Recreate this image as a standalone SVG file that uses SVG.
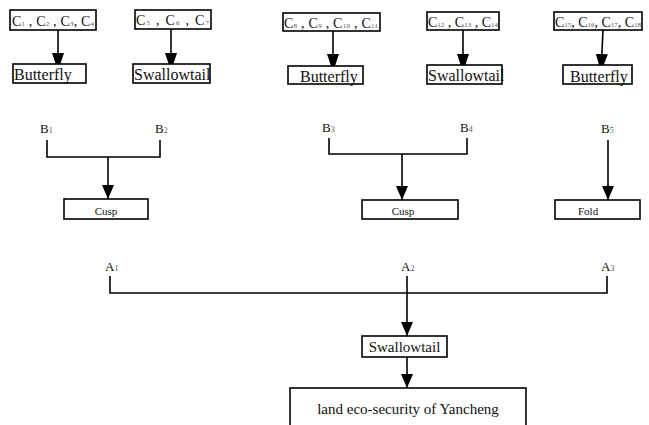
<svg xmlns="http://www.w3.org/2000/svg" width="649" height="425" viewBox="0 0 649 425" font-family="'Liberation Serif', 'Times New Roman', Times, serif">
<style>
  .box { fill: #fff; stroke: #000; stroke-width: 1.6; }
  .ln { fill: none; stroke: #000; stroke-width: 1.6; }
  text { font-family: 'Liberation Serif', 'Times New Roman', Times, serif; fill: #111; }
  .s { font-size: 7px; fill: #555; }
  .c { font-size: 14px; }
  .n { font-size: 16px; }
  .sm { font-size: 11px; }
  .lab { font-size: 13px; }
  .lab .s { font-size: 8px; }
</style>
<defs>
  <marker id="ah" viewBox="0 -6 18 12" refX="18" refY="0" markerWidth="18" markerHeight="12" markerUnits="userSpaceOnUse" orient="auto">
    <path d="M0,-6 L18,0 L0,6 z" fill="#000"/>
  </marker>
  <marker id="ahs" viewBox="0 -6 14 12" refX="14" refY="0" markerWidth="14" markerHeight="12" markerUnits="userSpaceOnUse" orient="auto">
    <path d="M0,-6 L14,0 L0,6 z" fill="#000"/>
  </marker>
</defs>

<g id="connectors">
  <line class="ln" x1="58" y1="30" x2="58" y2="71" marker-end="url(#ah)"/>
  <line class="ln" x1="171" y1="29" x2="171" y2="71" marker-end="url(#ah)"/>
  <line class="ln" x1="333" y1="31" x2="333" y2="72" marker-end="url(#ah)"/>
  <line class="ln" x1="463" y1="30" x2="463" y2="72" marker-end="url(#ah)"/>
  <line class="ln" x1="603" y1="30" x2="601" y2="72" marker-end="url(#ah)"/>

  <path class="ln" d="M47,140 V157 H160 V140"/>
  <line class="ln" x1="108" y1="157" x2="108" y2="199" marker-end="url(#ahs)"/>
  <path class="ln" d="M329,138 V154 H467 V138"/>
  <line class="ln" x1="402" y1="154" x2="402" y2="200" marker-end="url(#ahs)"/>
  <line class="ln" x1="608" y1="140" x2="608" y2="200" marker-end="url(#ahs)"/>

  <path class="ln" d="M110,276 V293 H607 V276"/>
  <line class="ln" x1="407" y1="276" x2="407" y2="336" marker-end="url(#ahs)"/>
  <line class="ln" x1="407" y1="357" x2="407" y2="388" marker-end="url(#ahs)"/>
</g>

<g id="c1-4">
  <rect class="box" x="10" y="10" width="86" height="20"/>
  <text class="c" x="12" y="25.5" textLength="82" lengthAdjust="spacing">C<tspan class="s">1</tspan> , C<tspan class="s">2</tspan> , C<tspan class="s">3</tspan>, C<tspan class="s">4</tspan></text>
</g>
<g id="c5-7">
  <rect class="box" x="135" y="10" width="76" height="19"/>
  <text class="c" x="136" y="25" textLength="73" lengthAdjust="spacing">C<tspan class="s">5</tspan> , C<tspan class="s">6</tspan> , C<tspan class="s">7</tspan></text>
</g>
<g id="c8-11">
  <rect class="box" x="283" y="13" width="97" height="18"/>
  <text class="c" x="284" y="27.5" textLength="94" lengthAdjust="spacing">C<tspan class="s">8</tspan> , C<tspan class="s">9</tspan> , C<tspan class="s">10</tspan> , C<tspan class="s">11</tspan></text>
</g>
<g id="c12-14">
  <rect class="box" x="427" y="12" width="72" height="18"/>
  <text class="c" x="428" y="27" textLength="70" lengthAdjust="spacing">C<tspan class="s">12</tspan> , C<tspan class="s">13</tspan> , C<tspan class="s">14</tspan></text>
</g>
<g id="c15-18">
  <rect class="box" x="554" y="12" width="88" height="18"/>
  <text class="c" x="555" y="27" textLength="86" lengthAdjust="spacing">C<tspan class="s">15</tspan>, C<tspan class="s">16</tspan>, C<tspan class="s">17</tspan>, C<tspan class="s">18</tspan></text>
</g>

<g id="butterfly1">
  <rect class="box" x="13" y="64" width="73" height="19"/>
  <text class="n" x="14" y="80">Butterfly</text>
</g>
<g id="swallowtail1">
  <rect class="box" x="133" y="64" width="77" height="19"/>
  <text class="n" x="134" y="80">Swallowtail</text>
</g>
<g id="butterfly2">
  <rect class="box" x="288" y="66" width="75" height="18"/>
  <text class="n" x="300" y="82">Butterfly</text>
</g>
<g id="swallowtail2">
  <rect class="box" x="427" y="65" width="75" height="19"/>
  <text class="n" x="428" y="81">Swallowtail</text>
</g>
<g id="butterfly3">
  <rect class="box" x="563" y="65" width="69" height="19"/>
  <text class="n" x="570" y="82">Butterfly</text>
</g>

<g id="b1"><text class="lab" x="40" y="133">B<tspan class="s">1</tspan></text></g>
<g id="b2"><text class="lab" x="155" y="133">B<tspan class="s">2</tspan></text></g>
<g id="b3"><text class="lab" x="322" y="132">B<tspan class="s">3</tspan></text></g>
<g id="b4"><text class="lab" x="460" y="132">B<tspan class="s">4</tspan></text></g>
<g id="b5"><text class="lab" x="601" y="133">B<tspan class="s">5</tspan></text></g>

<g id="cusp1">
  <rect class="box" x="64" y="199" width="84" height="20"/>
  <text class="sm" x="106" y="215" text-anchor="middle">Cusp</text>
</g>
<g id="cusp2">
  <rect class="box" x="362" y="200" width="96" height="19"/>
  <text class="sm" x="403" y="215" text-anchor="middle">Cusp</text>
</g>
<g id="fold">
  <rect class="box" x="555" y="200" width="85" height="19"/>
  <text class="sm" x="578" y="215">Fold</text>
</g>

<g id="a1"><text class="lab" x="105" y="271">A<tspan class="s">1</tspan></text></g>
<g id="a2"><text class="lab" x="401" y="271">A<tspan class="s">2</tspan></text></g>
<g id="a3"><text class="lab" x="601" y="271">A<tspan class="s">3</tspan></text></g>

<g id="swallowtail-main">
  <rect class="box" x="362" y="336" width="85" height="21"/>
  <text font-size="15" x="404.5" y="352" text-anchor="middle">Swallowtail</text>
</g>
<g id="goal">
  <rect class="box" x="290" y="388" width="236" height="45"/>
  <text font-size="15" x="408" y="414" text-anchor="middle">land eco-security of Yancheng</text>
</g>
</svg>
